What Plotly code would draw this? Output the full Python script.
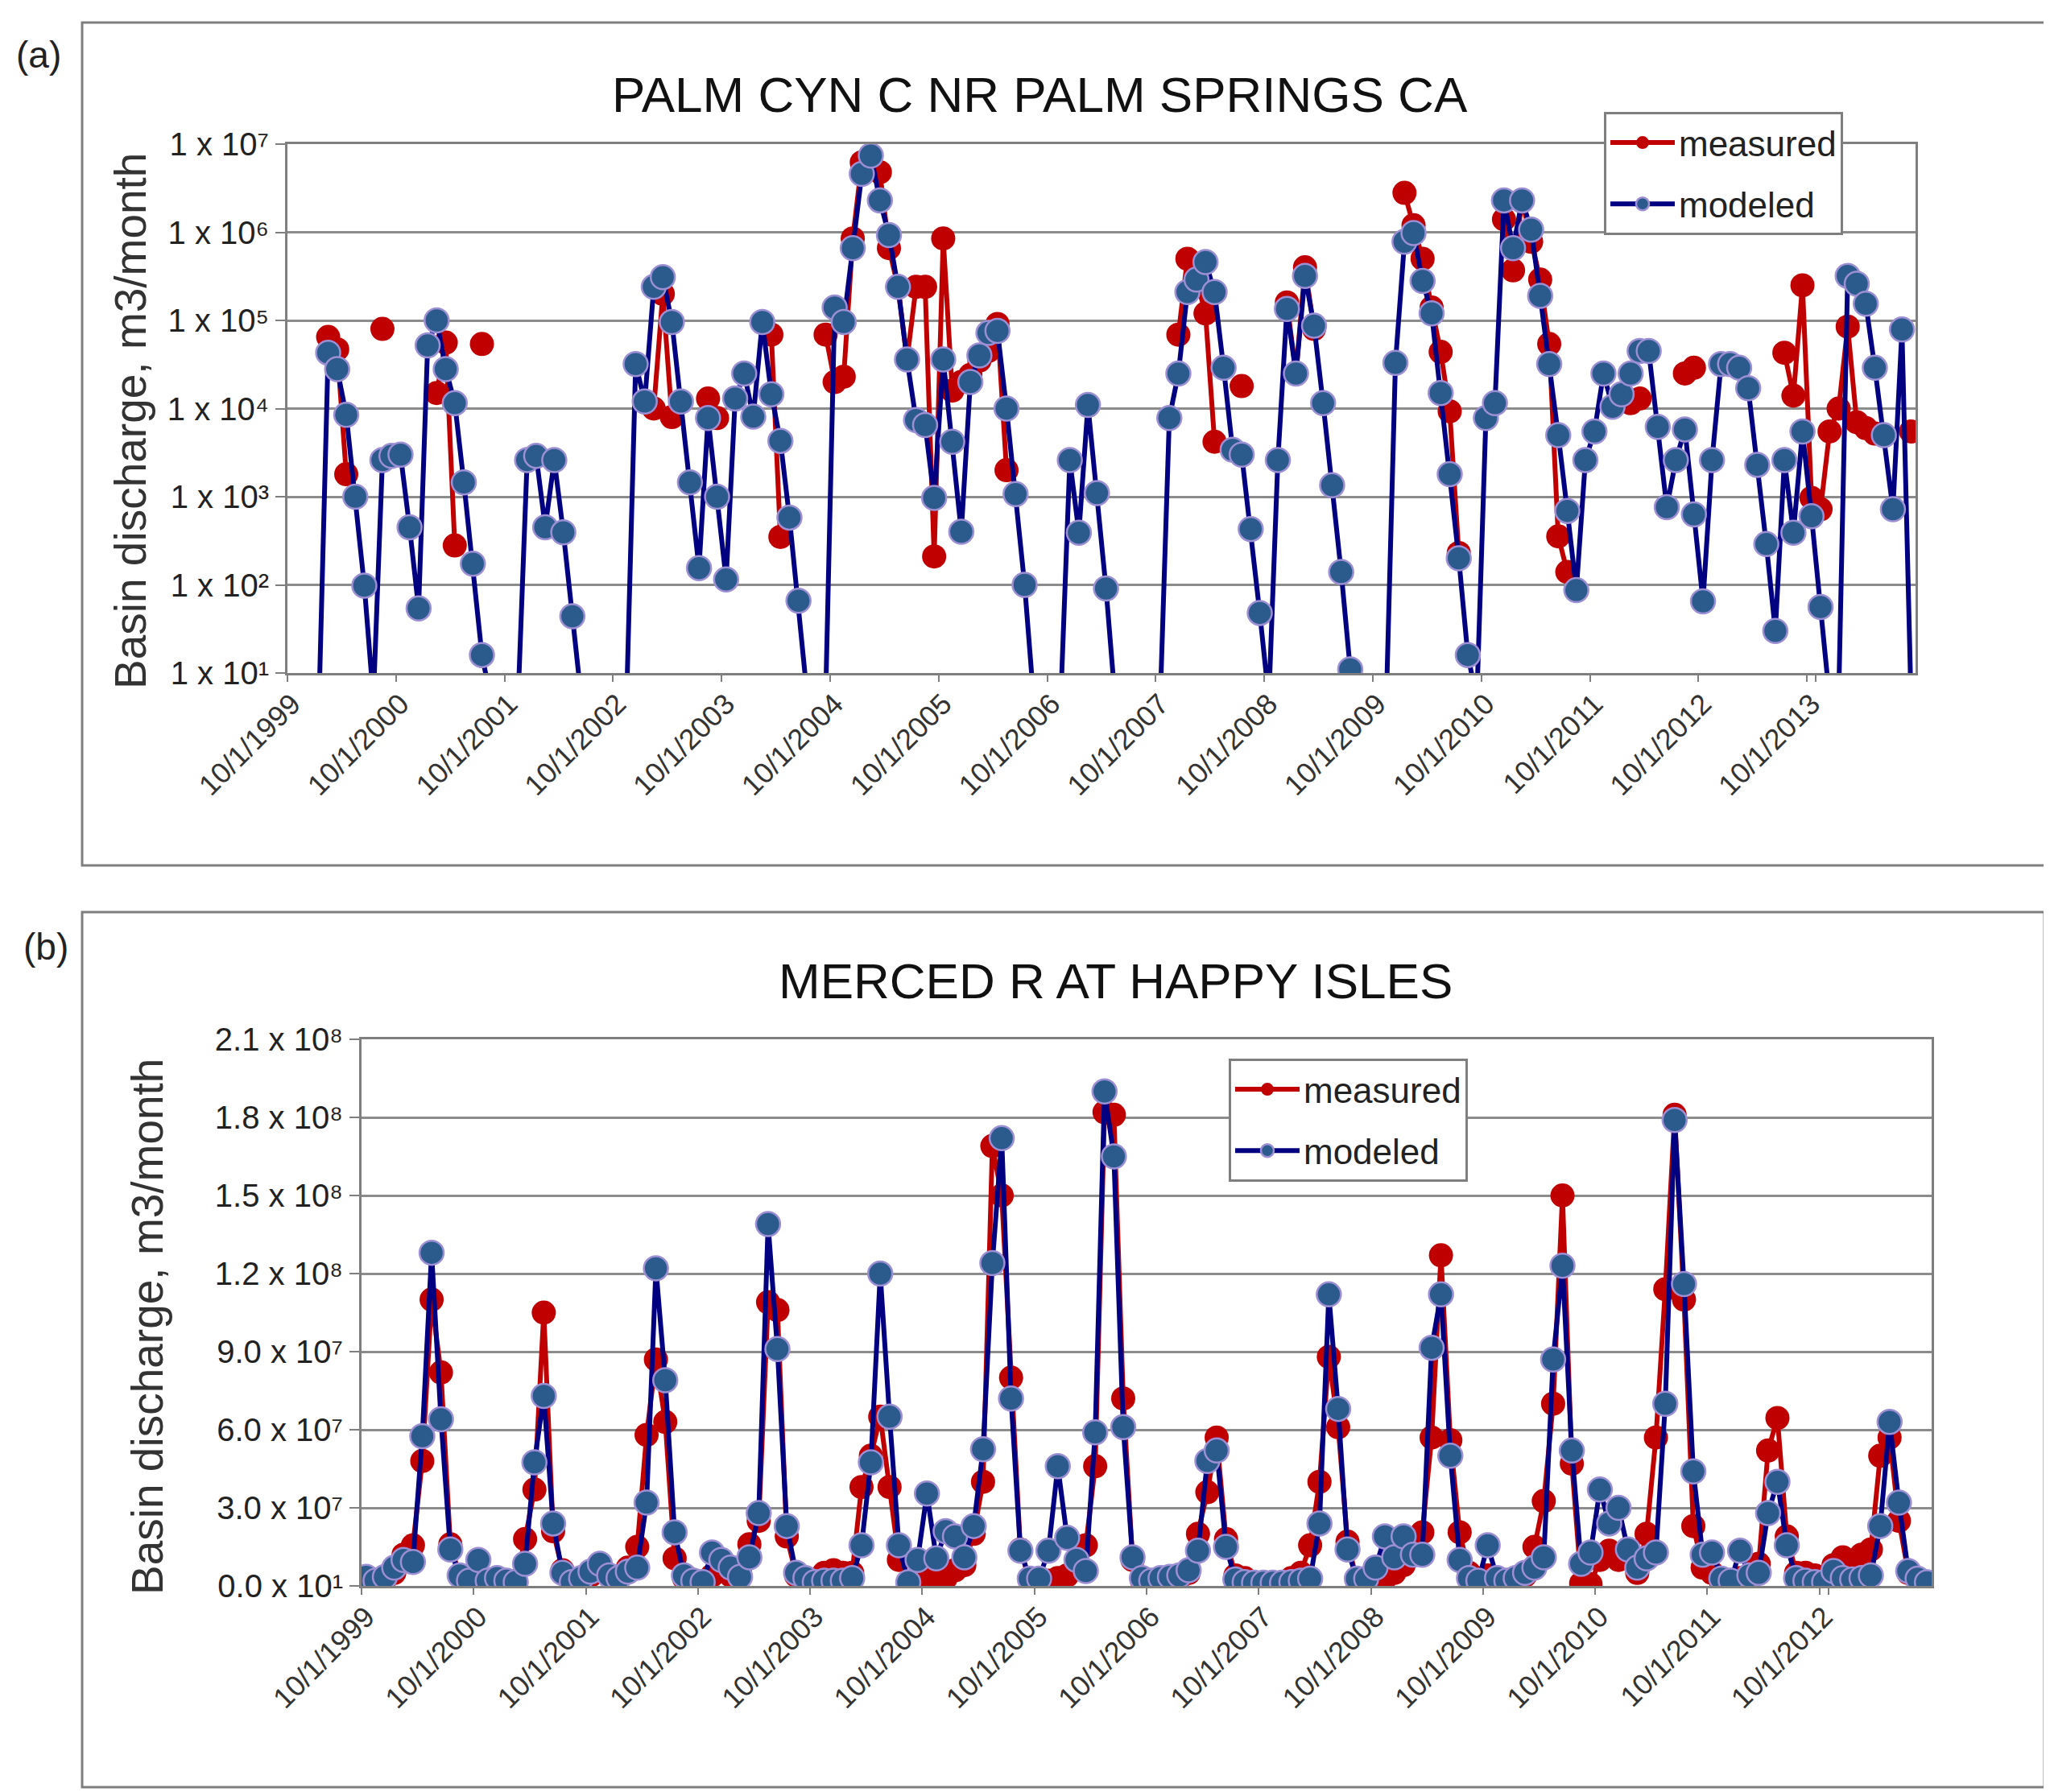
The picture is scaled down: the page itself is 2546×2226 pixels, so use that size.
import plotly.graph_objects as go

# ---- panel (a): PALM CYN C NR PALM SPRINGS CA, monthly Oct 1999 - Sep 2014 (log axis)
months_a = [f"{(9 + i) % 12 + 1}/1/{1999 + (9 + i) // 12}" for i in range(180)]

modeled_a = [
    5, 5, 5, 5, 4.3e4, 2.8e4, 8.5e3, 1.0e3, 98, 5,
    2.6e3, 2.9e3, 3.0e3, 450, 54, 5.2e4, 1.0e5, 2.8e4, 1.15e4, 1.45e3,
    174, 16, 5, 5, 5, 5, 2.6e3, 2.9e3, 450, 2.6e3,
    395, 44, 5, 5, 5, 5, 5, 5, 3.2e4, 1.2e4,
    2.4e5, 3.1e5, 9.6e4, 1.2e4, 1.45e3, 155, 7.8e3, 1.0e3, 115, 1.3e4,
    2.5e4, 8.1e3, 9.6e4, 1.45e4, 4.3e3, 580, 66, 5, 5, 5,
    1.4e5, 9.6e4, 6.6e5, 4.6e6, 7.4e6, 2.3e6, 9.3e5, 2.4e5, 3.6e4, 7.4e3,
    6.5e3, 970, 3.6e4, 4.2e3, 400, 2.0e4, 4.0e4, 7.2e4, 7.6e4, 1.0e4,
    1.07e3, 100, 5, 5, 5, 5, 2.6e3, 390, 1.1e4, 1.1e3,
    91, 5, 5, 5, 5, 5, 5, 7.8e3, 2.5e4, 2.1e5,
    2.9e5, 4.6e5, 2.1e5, 2.9e4, 3.4e3, 3.0e3, 430, 48, 5, 2.6e3,
    1.35e5, 2.5e4, 3.2e5, 8.7e4, 1.15e4, 1.35e3, 140, 11, 5, 5,
    5, 5, 3.3e4, 7.8e5, 9.8e5, 2.8e5, 1.2e5, 1.5e4, 1.8e3, 200,
    16, 5, 7.8e3, 1.15e4, 2.3e6, 6.6e5, 2.3e6, 1.07e6, 1.9e5, 3.2e4,
    5.0e3, 690, 87, 2.6e3, 5.5e3, 2.5e4, 1.05e4, 1.45e4, 2.5e4, 4.5e4,
    4.5e4, 6.2e3, 760, 2.6e3, 5.8e3, 630, 65, 2.6e3, 3.2e4, 3.2e4,
    2.9e4, 1.7e4, 2.3e3, 290, 30, 2.6e3, 390, 5.5e3, 600, 56,
    5, 5, 3.2e5, 2.6e5, 1.55e5, 2.9e4, 5.0e3, 720, 7.9e4, 5,
]

N = None
measured_a = [
    N, N, N, N, 6.5e4, 4.7e4, 1.8e3, 1.0e3, N, N,
    8.0e4, N, N, N, N, N, 1.5e4, 5.6e4, 280, N,
    N, 5.4e4, N, N, N, N, N, N, N, N,
    N, N, N, N, N, N, N, N, N, N,
    1.0e4, 2.0e5, 8.0e3, N, N, N, 1.3e4, 7.8e3, N, N,
    N, N, N, 6.9e4, 350, N, N, N, N, 6.9e4,
    2.0e4, 2.3e4, 8.5e5, 6.2e6, 7.4e6, 4.8e6, 6.6e5, 2.4e5, 3.6e4, 2.4e5,
    2.4e5, 210, 8.5e5, 1.6e4, 2.0e4, 2.4e4, 3.5e4, 4.5e4, 9.1e4, 2.0e3,
    N, N, N, N, N, N, N, N, N, N,
    N, N, N, N, N, N, N, N, 6.9e4, 5.0e5,
    2.9e5, 1.2e5, 4.2e3, N, N, 1.8e4, N, N, N, N,
    1.6e5, 2.5e4, 4.0e5, 8.0e4, N, N, N, N, N, N,
    N, N, N, 2.8e6, 1.2e6, 5.0e5, 1.4e5, 4.4e4, 9.3e3, 230,
    N, N, N, N, 1.4e6, 3.7e5, 2.3e6, 7.8e5, 2.9e5, 5.4e4,
    355, 140, N, N, N, N, N, N, 1.15e4, 1.3e4,
    N, N, N, N, 2.5e4, 2.9e4, N, N, N, N,
    N, N, N, N, N, 4.3e4, 1.4e4, 2.5e5, 970, 720,
    5.5e3, 1.0e4, 8.5e4, 7.0e3, 6.0e3, 5.2e3, 5.0e3, N, N, 5.5e3,
]

ticks_a = [f"10/1/{y}" for y in range(1999, 2014)]
yvals_a = [1e1, 1e2, 1e3, 1e4, 1e5, 1e6, 1e7]
ytext_a = ["1 x 10¹", "1 x 10²", "1 x 10³", "1 x 10⁴", "1 x 10⁵", "1 x 10⁶", "1 x 10⁷"]

# ---- panel (b): MERCED R AT HAPPY ISLES, monthly Oct 1999 - Sep 2013 (linear axis)
months_b = [f"{(9 + i) % 12 + 1}/1/{1999 + (9 + i) // 12}" for i in range(168)]

modeled_b = [
    3.5e6, 2.0e6, 3.5e6, 7.0e6, 1.0e7, 9.2e6, 5.75e7, 1.28e8, 6.4e7, 1.4e7,
    4.0e6, 2.0e6, 1.0e7, 2.0e6, 3.0e6, 2.0e6, 1.5e6, 8.5e6, 4.75e7, 7.3e7,
    2.4e7, 5.0e6, 1.5e6, 3.0e6, 5.5e6, 8.5e6, 4.0e6, 3.0e6, 5.5e6, 7.0e6,
    3.2e7, 1.22e8, 7.9e7, 2.06e7, 4.0e6, 2.0e6, 1.5e6, 1.28e7, 1.0e7, 7.0e6,
    3.5e6, 1.1e7, 2.8e7, 1.39e8, 9.1e7, 2.3e7, 5.0e6, 3.0e6, 1.5e6, 2.0e6,
    2.0e6, 2.0e6, 3.0e6, 1.56e7, 4.75e7, 1.2e8, 6.5e7, 1.56e7, 1.4e6, 1.0e7,
    3.55e7, 1.06e7, 2.1e7, 1.9e7, 1.1e7, 2.3e7, 5.25e7, 1.24e8, 1.72e8, 7.2e7,
    1.35e7, 2.8e6, 2.8e6, 1.35e7, 4.6e7, 1.85e7, 1.0e7, 5.7e6, 5.9e7, 1.9e8,
    1.65e8, 6.1e7, 1.1e7, 3.0e6, 2.0e6, 3.0e6, 3.5e6, 4.0e6, 6.0e6, 1.35e7,
    4.8e7, 5.2e7, 1.5e7, 2.5e6, 1.5e6, 1.2e6, 1.2e6, 1.2e6, 1.2e6, 1.5e6,
    2.0e6, 2.8e6, 2.4e7, 1.12e8, 6.8e7, 1.4e7, 2.8e6, 2.8e6, 7.0e6, 1.9e7,
    1.1e7, 1.9e7, 1.2e7, 1.2e7, 9.15e7, 1.12e8, 5.0e7, 1.0e7, 3.0e6, 2.0e6,
    1.56e7, 3.0e6, 2.0e6, 3.0e6, 5.0e6, 7.0e6, 1.1e7, 8.7e7, 1.23e8, 5.2e7,
    8.5e6, 1.28e7, 3.7e7, 2.4e7, 3.0e7, 1.4e7, 7.0e6, 1.06e7, 1.28e7, 7.0e7,
    1.79e8, 1.16e8, 4.4e7, 1.2e7, 1.28e7, 2.8e6, 2.0e6, 1.35e7, 4.0e6, 5.0e6,
    2.8e7, 4.0e7, 1.56e7, 3.0e6, 2.0e6, 1.5e6, 1.5e6, 5.7e6, 3.0e6, 2.5e6,
    3.0e6, 4.0e6, 2.3e7, 6.3e7, 3.2e7, 5.7e6, 2.8e6, 1.4e6,
]

measured_b = [
    2.5e6, 1.5e6, 2.5e6, 5.0e6, 1.2e7, 1.56e7, 4.8e7, 1.1e8, 8.2e7, 1.6e7,
    4.0e6, 1.5e6, 3.0e6, 1.5e6, 1.0e6, 1.0e6, 1.0e6, 1.8e7, 3.7e7, 1.05e8,
    2.1e7, 6.0e6, 1.0e6, 2.0e6, 4.0e6, 6.0e6, 4.0e6, 2.5e6, 7.0e6, 1.5e7,
    5.8e7, 8.7e7, 6.3e7, 1.06e7, 3.0e6, 1.0e6, 1.5e6, 4.0e6, 6.0e6, 4.0e6,
    5.0e6, 1.6e7, 2.5e7, 1.09e8, 1.06e8, 1.9e7, 4.0e6, 2.0e6, 1.0e6, 5.0e6,
    6.0e6, 5.0e6, 5.0e6, 3.8e7, 5.0e7, 6.5e7, 3.8e7, 1.0e7, 1.0e6, 3.0e6,
    3.0e6, 2.0e6, 3.0e6, 6.0e6, 8.0e6, 2.0e7, 4.0e7, 1.69e8, 1.5e8, 8.0e7,
    1.4e7, 2.0e6, 1.5e6, 2.0e6, 3.0e6, 4.0e6, 8.0e6, 1.56e7, 4.6e7, 1.82e8,
    1.81e8, 7.2e7, 1.0e7, 2.0e6, 1.5e6, 1.0e6, 2.0e6, 3.0e6, 5.0e6, 2.0e7,
    3.6e7, 5.7e7, 1.8e7, 4.0e6, 3.0e6, 1.5e6, 1.0e6, 1.0e6, 1.5e6, 3.0e6,
    5.0e6, 1.56e7, 4.0e7, 8.8e7, 6.1e7, 1.7e7, 2.0e6, 1.5e6, 3.0e6, 2.8e6,
    5.0e6, 8.0e6, 1.5e7, 2.06e7, 5.7e7, 1.27e8, 5.6e7, 2.06e7, 5.0e6, 2.0e6,
    4.0e6, 1.5e6, 1.5e6, 2.0e6, 4.0e6, 1.5e7, 3.26e7, 7.0e7, 1.5e8, 4.7e7,
    1.0e6, 7.0e5, 1.0e7, 1.35e7, 1.0e7, 1.2e7, 5.0e6, 2.0e7, 5.7e7, 1.14e8,
    1.81e8, 1.1e8, 2.3e7, 7.0e6, 5.0e6, 1.0e6, 1.0e6, 3.0e6, 3.0e6, 8.5e6,
    5.2e7, 6.45e7, 1.9e7, 5.0e6, 5.0e6, 4.0e6, 2.0e6, 8.0e6, 1.1e7, 5.0e6,
    1.2e7, 1.4e7, 5.0e7, 5.7e7, 2.5e7, 5.0e6, 2.0e6, 1.0e6,
]

ticks_b = [f"10/1/{y}" for y in range(1999, 2013)]
yvals_b = [0, 3e7, 6e7, 9e7, 1.2e8, 1.5e8, 1.8e8, 2.1e8]
ytext_b = ["0.0 x 10¹", "3.0 x 10⁷", "6.0 x 10⁷", "9.0 x 10⁷",
           "1.2 x 10⁸", "1.5 x 10⁸", "1.8 x 10⁸", "2.1 x 10⁸"]

W, H = 2546, 2226
FONT = "Liberation Sans, DejaVu Sans, Arial, sans-serif"
RED = "#C00000"
NAVY = "#000080"
BLUE_FILL = "#2B5B8C"
BLUE_EDGE = "#9D8FD3"
GRID = "#8C8C8C"


def px(x):
    return x / W


def py(y):
    return 1 - y / H


def add_pair(fig, months, measured, modeled, xa, ya, legend):
    fig.add_trace(go.Scatter(
        x=months, y=measured, name="measured", mode="lines+markers",
        line=dict(color=RED, width=6),
        marker=dict(size=30, color=RED, line=dict(width=0)),
        xaxis=xa, yaxis=ya, legend=legend, legendgroup=legend + "m",
    ))
    fig.add_trace(go.Scatter(
        x=months, y=modeled, name="modeled", mode="lines+markers",
        line=dict(color=NAVY, width=6),
        marker=dict(size=30, color=BLUE_FILL, line=dict(width=2.5, color=BLUE_EDGE)),
        xaxis=xa, yaxis=ya, legend=legend, legendgroup=legend + "d",
    ))


def label(text, x, y, size, angle=0, color="#222222"):
    return dict(text=text, x=px(x), y=py(y), xref="paper", yref="paper",
                xanchor="center", yanchor="middle", showarrow=False, textangle=angle,
                font=dict(family=FONT, size=size, color=color))


fig = go.Figure()
add_pair(fig, months_a, measured_a, modeled_a, "x", "y", "legend")
add_pair(fig, months_b, measured_b, modeled_b, "x2", "y2", "legend2")

xcommon = dict(
    type="category", tickmode="array", tickangle=-45, tickson="boundaries",
    ticks="outside", ticklen=8, tickwidth=2, tickcolor="#7F7F7F",
    showgrid=False, showline=True, linecolor="#7F7F7F", linewidth=3, mirror=True,
    tickfont=dict(family=FONT, size=36, color="#333333"), zeroline=False,
    automargin=False,
)
ycommon = dict(
    tickmode="array", ticks="outside", ticklen=12, tickwidth=2, tickcolor="#7F7F7F",
    showgrid=True, gridcolor=GRID, gridwidth=3,
    showline=True, linecolor="#7F7F7F", linewidth=3, mirror=True,
    tickfont=dict(family=FONT, size=40, color="#222222"), zeroline=False,
    automargin=False,
)

legcommon = dict(
    font=dict(family=FONT, size=44, color="#222222"),
    bgcolor="white", bordercolor="#7F7F7F", borderwidth=3,
    xanchor="left", yanchor="top", itemwidth=80,
    traceorder="grouped", tracegroupgap=16, itemsizing="trace",
)

fig.update_layout(
    template="none",
    width=W, height=H, autosize=False,
    margin=dict(l=0, r=0, t=0, b=0, pad=0, autoexpand=False),
    paper_bgcolor="white", plot_bgcolor="white",
    showlegend=True,
    xaxis=dict(xcommon, domain=[px(349), px(2371)], range=[-0.5, 179.5],
               tickvals=ticks_a, anchor="y"),
    yaxis=dict(ycommon, type="log", domain=[py(828), py(171)], range=[1, 7],
               tickvals=yvals_a, ticktext=ytext_a, anchor="x"),
    xaxis2=dict(xcommon, domain=[px(441), px(2391)], range=[-0.5, 167.5],
                tickvals=ticks_b, anchor="y2"),
    yaxis2=dict(ycommon, domain=[py(1962), py(1283)], range=[0, 2.1e8],
                tickvals=yvals_b, ticktext=ytext_b, anchor="x2"),
    legend=dict(legcommon, x=px(1984), y=py(131)),
    legend2=dict(legcommon, x=px(1518), y=py(1307)),
    shapes=[
        dict(type="rect", xref="paper", yref="paper", x0=px(94), x1=px(2534),
             y0=py(1067), y1=py(20), line=dict(color="#7F7F7F", width=3), layer="below"),
        dict(type="rect", xref="paper", yref="paper", x0=px(94), x1=px(2531),
             y0=py(2212), y1=py(1125), line=dict(color="#7F7F7F", width=3), layer="below"),
    ],
    annotations=[
        label("(a)", 40, 60, 46),
        label("(b)", 49, 1168, 46),
        label("PALM CYN C NR PALM SPRINGS CA", 1283, 109, 62, color="#111111"),
        label("MERCED R AT HAPPY ISLES", 1377, 1210, 62, color="#111111"),
        label("Basin discharge, m3/month", 154, 515, 55, angle=-90, color="#333333"),
        label("Basin discharge, m3/month", 175, 1640, 55, angle=-90, color="#333333"),
    ],
)

fig.write_html("out.html")
